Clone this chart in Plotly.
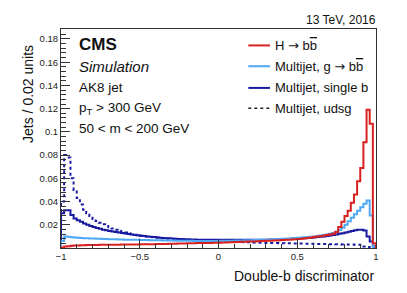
import plotly.graph_objects as go

# Bin edges: 100 bins of width 0.02 from -1 to 1
bin_lo = -1.0
bin_w = 0.02
n_bins = 100
edges = [round(bin_lo + i * bin_w, 4) for i in range(n_bins + 1)]

h_bb = [
    0.0005, 0.0012, 0.0016, 0.0019, 0.0021, 0.0022, 0.0023, 0.0024, 0.0025, 0.0025,
    0.0026, 0.0026, 0.0027, 0.0027, 0.0028, 0.0028, 0.0028, 0.0029, 0.0029, 0.0030,
    0.0030, 0.0030, 0.0031, 0.0031, 0.0031, 0.0032, 0.0032, 0.0032, 0.0033, 0.0033,
    0.0034, 0.0034, 0.0035, 0.0035, 0.0036, 0.0036, 0.0037, 0.0038, 0.0038, 0.0039,
    0.0040, 0.0040, 0.0041, 0.0042, 0.0042, 0.0043, 0.0044, 0.0044, 0.0045, 0.0046,
    0.0046, 0.0047, 0.0048, 0.0049, 0.0050, 0.0051, 0.0052, 0.0053, 0.0054, 0.0055,
    0.0056, 0.0057, 0.0058, 0.0060, 0.0061, 0.0062, 0.0063, 0.0064, 0.0065, 0.0066,
    0.0068, 0.0070, 0.0072, 0.0074, 0.0076, 0.0078, 0.0080, 0.0083, 0.0086, 0.0090,
    0.0094, 0.0098, 0.0102, 0.0106, 0.0111, 0.0116, 0.0122, 0.0138, 0.0180, 0.0225,
    0.0275, 0.0320, 0.0390, 0.0460, 0.0575, 0.0690, 0.0910, 0.1190, 0.1070, 0.0040,
]

g_bb = [
    0.0060, 0.0098, 0.0097, 0.0093, 0.0090, 0.0088, 0.0086, 0.0085, 0.0084, 0.0082,
    0.0081, 0.0080, 0.0079, 0.0078, 0.0077, 0.0076, 0.0075, 0.0075, 0.0074, 0.0073,
    0.0072, 0.0072, 0.0071, 0.0070, 0.0070, 0.0069, 0.0068, 0.0068, 0.0067, 0.0067,
    0.0066, 0.0066, 0.0065, 0.0065, 0.0064, 0.0064, 0.0063, 0.0063, 0.0063, 0.0062,
    0.0062, 0.0062, 0.0061, 0.0061, 0.0061, 0.0061, 0.0061, 0.0061, 0.0061, 0.0061,
    0.0062, 0.0062, 0.0062, 0.0063, 0.0063, 0.0064, 0.0064, 0.0065, 0.0066, 0.0066,
    0.0067, 0.0068, 0.0069, 0.0070, 0.0071, 0.0072, 0.0073, 0.0074, 0.0076, 0.0077,
    0.0079, 0.0080, 0.0082, 0.0084, 0.0086, 0.0088, 0.0090, 0.0092, 0.0095, 0.0097,
    0.0100, 0.0104, 0.0108, 0.0112, 0.0117, 0.0123, 0.0130, 0.0140, 0.0155, 0.0175,
    0.0200, 0.0230, 0.0260, 0.0290, 0.0320, 0.0350, 0.0380, 0.0410, 0.0280, 0.0010,
]

single_b = [
    0.0300, 0.0325, 0.0325, 0.0285, 0.0255, 0.0240, 0.0225, 0.0212, 0.0200, 0.0190,
    0.0180, 0.0172, 0.0165, 0.0158, 0.0152, 0.0147, 0.0142, 0.0137, 0.0133, 0.0129,
    0.0125, 0.0121, 0.0117, 0.0113, 0.0110, 0.0106, 0.0103, 0.0100, 0.0097, 0.0094,
    0.0092, 0.0089, 0.0087, 0.0085, 0.0083, 0.0081, 0.0080, 0.0078, 0.0077, 0.0076,
    0.0075, 0.0074, 0.0073, 0.0072, 0.0072, 0.0071, 0.0071, 0.0071, 0.0071, 0.0072,
    0.0072, 0.0072, 0.0072, 0.0072, 0.0072, 0.0071, 0.0071, 0.0071, 0.0071, 0.0071,
    0.0071, 0.0071, 0.0071, 0.0072, 0.0072, 0.0072, 0.0073, 0.0073, 0.0074, 0.0075,
    0.0076, 0.0077, 0.0078, 0.0079, 0.0080, 0.0082, 0.0083, 0.0085, 0.0087, 0.0089,
    0.0091, 0.0094, 0.0097, 0.0100, 0.0104, 0.0108, 0.0112, 0.0117, 0.0122, 0.0128,
    0.0134, 0.0140, 0.0147, 0.0153, 0.0157, 0.0158, 0.0150, 0.0100, 0.0055, 0.0015,
]

udsg = [
    0.0400, 0.0800, 0.0780, 0.0600, 0.0500, 0.0430, 0.0375, 0.0330, 0.0300, 0.0275,
    0.0250, 0.0232, 0.0218, 0.0204, 0.0190, 0.0178, 0.0167, 0.0157, 0.0148, 0.0140,
    0.0133, 0.0126, 0.0120, 0.0115, 0.0110, 0.0106, 0.0102, 0.0098, 0.0095, 0.0092,
    0.0089, 0.0086, 0.0083, 0.0081, 0.0079, 0.0077, 0.0075, 0.0073, 0.0072, 0.0070,
    0.0069, 0.0068, 0.0066, 0.0065, 0.0064, 0.0063, 0.0062, 0.0061, 0.0060, 0.0059,
    0.0058, 0.0057, 0.0056, 0.0055, 0.0054, 0.0053, 0.0052, 0.0051, 0.0050, 0.0049,
    0.0048, 0.0047, 0.0046, 0.0046, 0.0045, 0.0044, 0.0043, 0.0043, 0.0042, 0.0041,
    0.0041, 0.0040, 0.0040, 0.0039, 0.0039, 0.0038, 0.0038, 0.0037, 0.0037, 0.0036,
    0.0036, 0.0035, 0.0035, 0.0034, 0.0034, 0.0033, 0.0033, 0.0032, 0.0032, 0.0031,
    0.0031, 0.0030, 0.0030, 0.0029, 0.0028, 0.0027, 0.0012, 0.0008, 0.0004, 0.0001,
]

x_tick_vals = [-1, -0.5, 0, 0.5, 1]
x_tick_text = ["\u22121", "\u22120.5", "0", "0.5", "1"]
y_tick_vals = [0.02, 0.04, 0.06, 0.08, 0.1, 0.12, 0.14, 0.16, 0.18]
y_tick_text = ["0.02", "0.04", "0.06", "0.08", "0.1", "0.12", "0.14", "0.16", "0.18"]

C_RED = "#d92020"
C_LBLUE = "#4fa8f5"
C_DBLUE = "#1a1aa0"
FONT = "Liberation Sans, Arial, sans-serif"


def step_xy(vals):
    xs = [edges[0]] + edges[:-1] + [edges[-1]]
    ys = [0.0] + list(vals) + [0.0]
    return xs, ys


fig = go.Figure()
series = [
    (udsg, C_DBLUE, "dot"),
    (single_b, C_DBLUE, "solid"),
    (g_bb, C_LBLUE, "solid"),
    (h_bb, C_RED, "solid"),
]
for vals, col, dash in series:
    xs, ys = step_xy(vals)
    fig.add_trace(go.Scatter(
        x=xs, y=ys, mode="lines",
        line=dict(color=col, width=2, dash=dash, shape="hv"),
        showlegend=False, hoverinfo="skip",
    ))

ax_common = dict(
    showline=True, linecolor="#333333", linewidth=1, mirror=True,
    showgrid=False, zeroline=False,
    ticks="inside", tickcolor="#333333", tickwidth=1,
    tickfont=dict(family=FONT, size=9.5, color="#222222"),
)
fig.update_xaxes(
    range=[-1, 1], tickvals=x_tick_vals, ticktext=x_tick_text, ticklen=9,
    minor=dict(dtick=0.1, tick0=0, ticklen=4.5, ticks="inside", tickcolor="#333333"),
    **ax_common,
)
fig.update_yaxes(
    range=[0, 0.1886], tickvals=y_tick_vals, ticktext=y_tick_text, ticklen=9,
    minor=dict(dtick=0.004, tick0=0, ticklen=4.5, ticks="inside", tickcolor="#333333"),
    **ax_common,
)

ann = []
def A(text, x, y, size, xanchor="left", yanchor="middle", **kw):
    ann.append(dict(text=text, x=x, y=y, xref="paper", yref="paper",
                    xanchor=xanchor, yanchor=yanchor, showarrow=False,
                    font=dict(family=FONT, size=size, color="#111111"), **kw))

# left text block
A("<b>CMS</b>", 0.0517, 0.929, 17)
A("<i>Simulation</i>", 0.0517, 0.830, 15)
A("AK8 jet", 0.0517, 0.731, 13.5)
A("p<sub>T</sub> > 300 GeV", 0.0517, 0.636, 13.5)
A("50 < m < 200 GeV", 0.0517, 0.544, 13.5)

ARROW = "<span style='font-family:DejaVu Sans'>\u2192</span>"
BBAR = "b<span style='text-decoration:overline'>b</span>"
# legend
leg_rows = [
    ("H " + ARROW + " " + BBAR, C_RED, "solid", 0.925),
    ("Multijet, g " + ARROW + " " + BBAR, C_LBLUE, "solid", 0.830),
    ("Multijet, single b", C_DBLUE, "solid", 0.731),
    ("Multijet, udsg", "#222222", "dot", 0.638),
]
shapes = []
for txt, col, dash, yy in leg_rows:
    A(txt, 0.674, yy, 13)
    shapes.append(dict(type="line", xref="paper", yref="paper",
                       x0=0.5946, x1=0.6635, y0=yy, y1=yy,
                       line=dict(color=col, width=2 if dash == "solid" else 1.5, dash=dash)))

# energy label
A("13 TeV, 2016", 1.005, 1.041, 12, xanchor="right")
# axis titles
A("Double-b discriminator", 1.0, -0.128, 14, xanchor="right")
A("Jets / 0.02 units", -0.105, 0.703, 14, xanchor="center", textangle=-90)

# page body has an 8px default margin, so the figure is offset by 8px
fig.update_layout(
    width=399, height=285,
    margin=dict(l=53, r=31, t=21, b=45),
    paper_bgcolor="white", plot_bgcolor="white",
    annotations=ann, shapes=shapes,
    font=dict(family=FONT),
)

fig.write_html("out.html")
